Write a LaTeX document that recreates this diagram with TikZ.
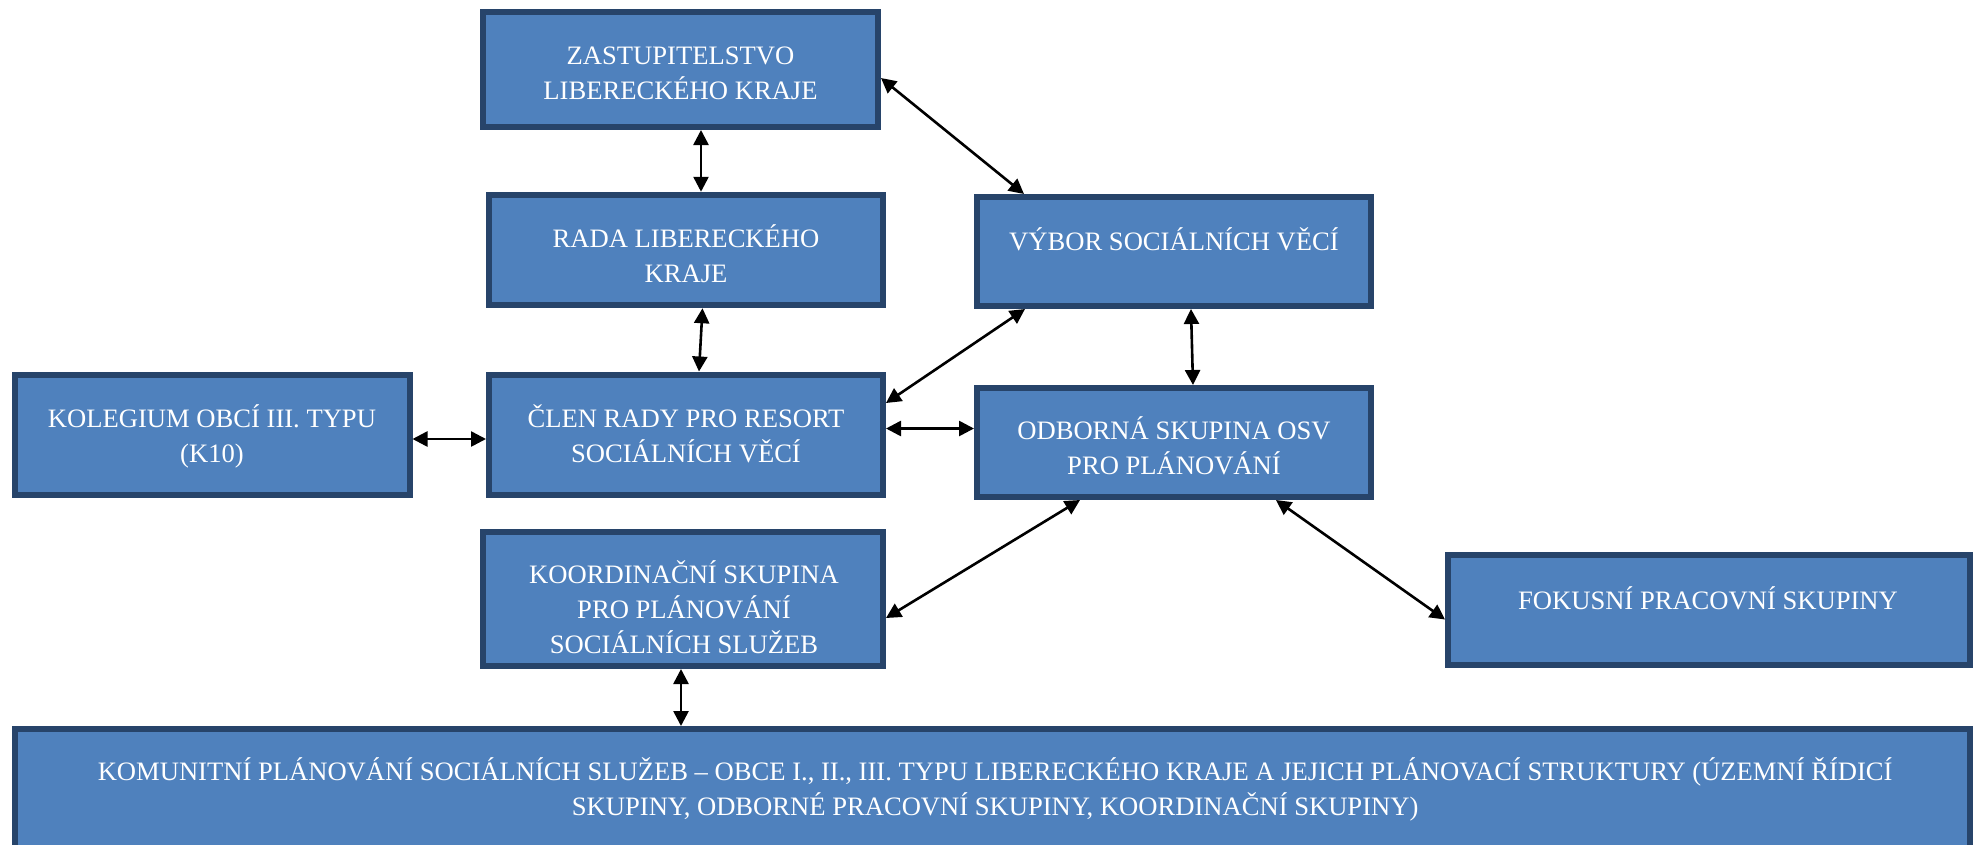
\documentclass[tikz,border=0pt]{standalone}
\usepackage{fontspec}
\setmainfont{Liberation Serif}
\newfontfamily\boxfont{Liberation Serif}
\usetikzlibrary{arrows.meta,calc}
\definecolor{boxfill}{HTML}{4F81BD}
\definecolor{boxline}{HTML}{27446A}
\newcommand\lstrut{\rule[-9pt]{0pt}{35pt}}
\begin{document}
\begin{tikzpicture}[x=1pt,y=-1pt,
  box/.style={draw=boxline,fill=boxfill,line width=6pt,inner sep=0pt},
  txt/.style={text=white,align=center,inner sep=0pt,font=\boxfont\fontsize{26.6}{35}\selectfont},
  biarrow/.style={{Triangle[length=15pt,width=15pt]}-{Triangle[length=15pt,width=15pt]},line width=2.6pt,black}]
\useasboundingbox (0,0) rectangle (1978,844);
\clip (0,0) rectangle (1978,844);
% boxes
\node[box,minimum width=395pt,minimum height=115pt] (zast) at (680.5,69.5) {};
\node[box,minimum width=394.5pt,minimum height=110.5pt] (rada) at (686,250) {};
\node[box,minimum width=394pt,minimum height=109pt] (vybor) at (1174,251.5) {};
\node[box,minimum width=395pt,minimum height=120pt] (kol) at (212,434.5) {};
\node[box,minimum width=394pt,minimum height=120pt] (clen) at (686,434.5) {};
\node[box,minimum width=394pt,minimum height=109pt] (odb) at (1174,442.5) {};
\node[box,minimum width=400pt,minimum height=134pt] (koord) at (683,599) {};
\node[box,minimum width=522pt,minimum height=110pt] (fokus) at (1709,610) {};
\node[box,minimum width=1955.5pt,minimum height=148pt] (komun) at (992.25,803) {};
% texts
\node[txt] (zast-t) at ($(zast)+(0,3.5)$) {\lstrut ZASTUPITELSTVO\\\lstrut LIBERECKÉHO KRAJE};
\node[txt] (rada-t) at ($(rada)+(0,6.5)$) {\lstrut RADA LIBERECKÉHO\\\lstrut KRAJE};
\node[txt] (vybor-t) at ($(vybor)+(0,-9.5)$) {\lstrut VÝBOR SOCIÁLNÍCH VĚCÍ};
\node[txt] (kol-t) at ($(kol)+(0,2)$) {\lstrut KOLEGIUM OBCÍ III. TYPU\\\lstrut (K10)};
\node[txt] (clen-t) at ($(clen)+(0,2)$) {\lstrut ČLEN RADY PRO RESORT\\\lstrut SOCIÁLNÍCH VĚCÍ};
\node[txt] (odb-t) at ($(odb)+(0,6)$) {\lstrut ODBORNÁ SKUPINA OSV\\\lstrut PRO PLÁNOVÁNÍ};
\node[txt] (koord-t) at ($(koord)+(1,11)$) {\lstrut KOORDINAČNÍ SKUPINA\\\lstrut PRO PLÁNOVÁNÍ\\\lstrut SOCIÁLNÍCH SLUŽEB};
\node[txt] (fokus-t) at ($(fokus)+(-1,-9)$) {\lstrut FOKUSNÍ PRACOVNÍ SKUPINY};
\node[txt] (komun-t) at ($(komun.north)+(3,63)$) {\lstrut KOMUNITNÍ PLÁNOVÁNÍ SOCIÁLNÍCH SLUŽEB – OBCE I., II., III. TYPU LIBERECKÉHO KRAJE A JEJICH PLÁNOVACÍ STRUKTURY (ÚZEMNÍ ŘÍDICÍ\\\lstrut SKUPINY, ODBORNÉ PRACOVNÍ SKUPINY, KOORDINAČNÍ SKUPINY)};
% connectors
\draw[biarrow] ($(zast.south)+(20.5,0)$) -- ($(rada.north)+(15,0)$);
\draw[biarrow] ($(rada.south)+(16.5,0)$) -- ($(clen.north)+(13,0)$);
\draw[biarrow] ($(zast.east)+(0,8.5)$) -- ($(vybor.north)+(-150,0)$);
\draw[biarrow] ($(vybor.south)+(-149,0)$) -- ($(clen.east)+(0,-31.5)$);
\draw[biarrow] ($(vybor.south)+(17,0)$) -- ($(odb.north)+(19,0)$);
\draw[biarrow] ($(kol.east)+(0,4.5)$) -- ($(clen.west)+(0,4.5)$);
\draw[biarrow] ($(clen.east)+(0,-6)$) -- ($(odb.west)+(0,-14)$);
\draw[biarrow] ($(odb.south)+(-94,0)$) -- ($(koord.east)+(0,19)$);
\draw[biarrow] ($(odb.south)+(102,0)$) -- ($(fokus.west)+(0,9.5)$);
\draw[biarrow] ($(koord.south)+(-2,0)$) -- ($(komun.north)+(-311.25,0)$);
\end{tikzpicture}
\end{document}
